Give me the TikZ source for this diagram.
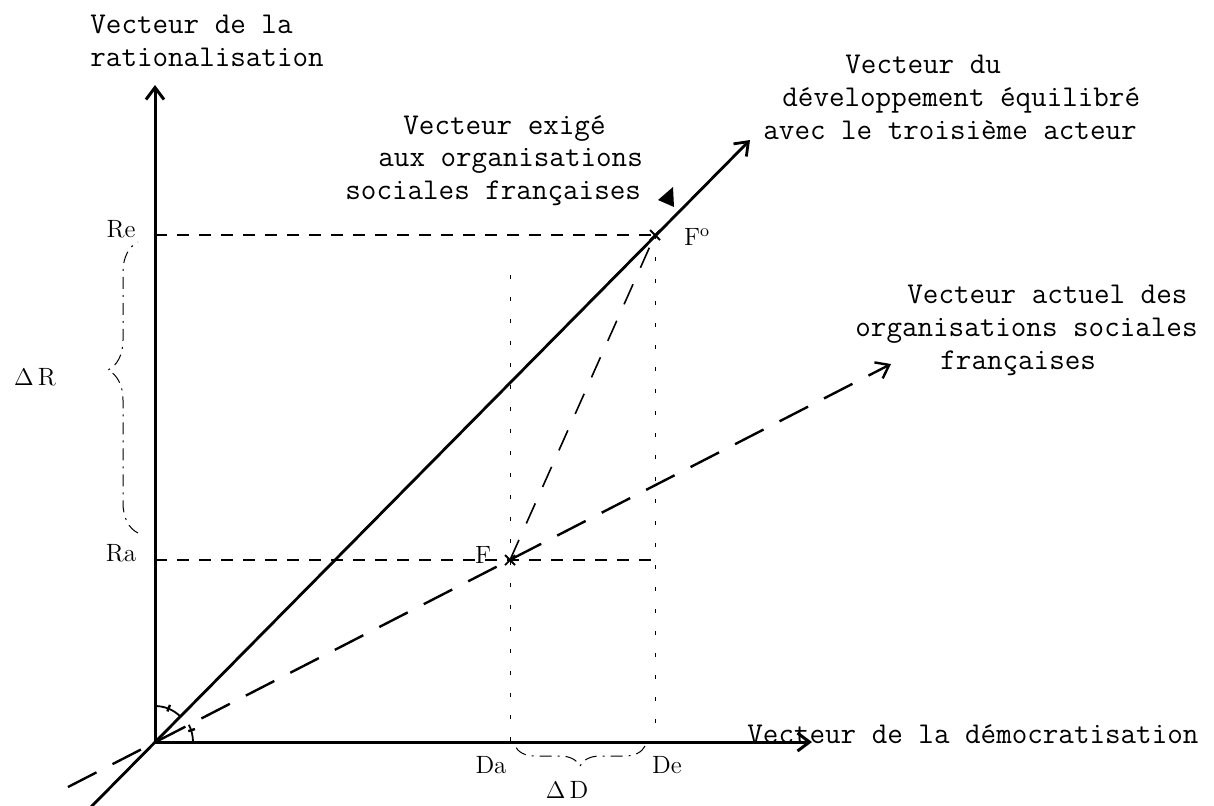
\documentclass[tikz,border=0pt]{standalone}
\usepackage{tikz}
\usetikzlibrary{calc,arrows.meta,decorations.pathreplacing}
\newcommand\tw{\fontsize{15.1}{16.3}\selectfont\ttfamily}
\newcommand\sr{\fontsize{12.5}{14}\selectfont}

\begin{document}
\begin{tikzpicture}[x=0.5pt,y=-0.5pt,
  tw/.style={inner sep=0pt,align=left,font=\tw},
  lab/.style={inner sep=0pt,font=\sr},
  barb/.style={-{Straight Barb[length=6pt,width=9pt]}},
  axis/.style={barb,line width=1.5pt},
  guide/.style={line width=1pt,dash pattern=on 6pt off 5pt},
  faint/.style={line width=0.5pt,dash pattern=on 2pt off 9pt},
  bracebox/.style={line width=0.5pt,dash pattern=on 6pt off 3pt on 1pt off 3pt,
    decorate,decoration={brace,amplitude=#1}}]
\useasboundingbox (0,0) rectangle (1214,805);

% points of the diagram
\coordinate (O) at (155,742);
\coordinate (Ytop) at (155,85);
\coordinate (Xend) at (812,742);
\coordinate (Re) at (155,235);
\coordinate (Ra) at (155,560);
\coordinate (Da) at (510,742);
\coordinate (De) at (655,742);
\coordinate (DaTop) at (510,275);
\coordinate (F) at (510,560);
\coordinate (Fo) at (655,235);
\coordinate (S0) at (88,810);
\coordinate (S1) at (750,140);
\coordinate (V0) at (68,787);
\coordinate (V1) at (891,364);

% axes
\draw[axis] (O) -- (Ytop);
\draw[axis] (O) -- (Xend);

% projections
\draw[guide] (Re) -- (Fo);
\draw[guide] (Ra) -- (Ra -| Fo);
\draw[faint] (DaTop) -- (Da);
\draw[faint] (Fo) -- (De);
\draw[line width=0.8pt,dash pattern=on 11pt off 9pt] (F) -- (Fo);

% vectors
\draw[barb,line width=1.4pt] (S0) -- (S1);
\draw[barb,line width=1.2pt,dash pattern=on 16pt off 9pt] (V0) -- (V1);

% crosses at F and F°
\draw[line width=0.9pt] (F) +(-5,-5) -- +(5,5) (F) +(-5,5) -- +(5,-5);
\draw[line width=0.9pt] (Fo) +(-5,-5) -- +(5,5) (Fo) +(-5,5) -- +(5,-5);

% angles
\draw[line width=0.9pt] ($(O)+(0,-36)$) arc[start angle=-90,end angle=-45,radius=36];
\draw[line width=0.9pt] ($(O)+(-27:38)$) arc[start angle=-27,end angle=0,radius=38];
\draw[line width=1.2pt] ($(O)+(-68:33)$) -- ($(O)+(-68:40)$);
\draw[line width=1.2pt] ($(O)+(-18:35)$) -- ($(O)+(-18:42)$);

% pointer of the required vector
\fill (673,187) -- (658,200) -- (674,207) -- cycle;

% braces
\draw[bracebox=15pt,decoration={aspect=0.56}] (138,533) -- (138,242);
\draw[bracebox=10pt] (645,746) -- (515,746);

% labels
\node[lab] (reL) at (121,229) {Re};
\node[lab] (raL) at (121,553) {Ra};
\node[lab] (dR) at (35,377) {$\Delta$\,R};
\node[lab] (daL) at (491,765) {Da};
\node[lab] (deL) at (667,765) {De};
\node[lab] (dD) at (567,790) {$\Delta$\,D};
\node[lab] (fL) at (483,555) {F};
\node[lab] (foL) at (697,237) {F\textsuperscript{o}};

\node[tw,anchor=north west] (rat) at (90,15) {Vecteur de la\\rationalisation};
\node[tw,anchor=north west] (equ) at (763,55)
  {\hspace*{41pt}Vecteur du\\\hspace*{9.5pt}développement équilibré\\avec le troisième acteur};
\node[tw,anchor=north west] (exi) at (345,115)
  {\hspace*{29pt}Vecteur exigé\\\hspace*{16.5pt}aux organisations\\sociales françaises};
\node[tw,anchor=north west] (act) at (855,285)
  {\hspace*{26pt}Vecteur actuel des\\organisations sociales\\\hspace*{42.5pt}françaises};
\node[tw,anchor=base west] (dem) at (747,743) {Vecteur de la démocratisation};
\end{tikzpicture}
\end{document}
